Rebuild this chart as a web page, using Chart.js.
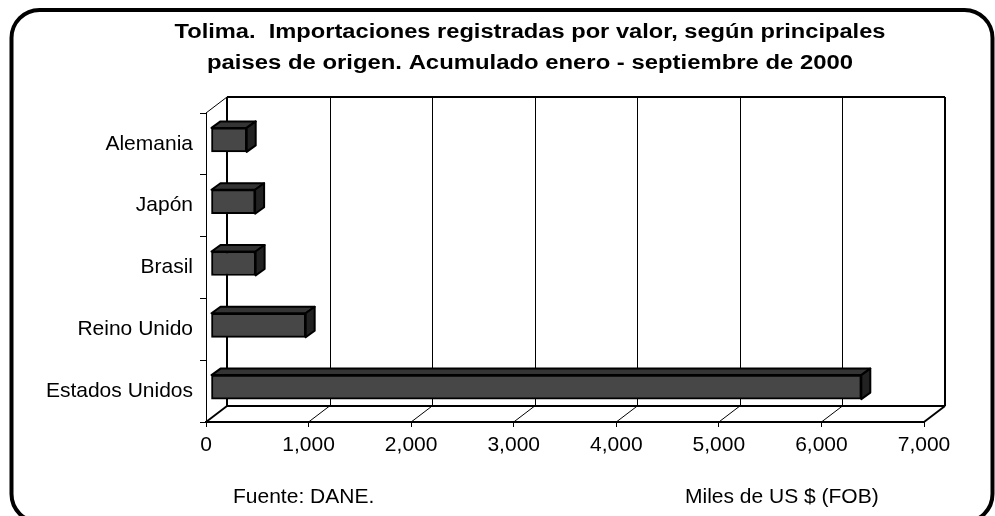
<!DOCTYPE html>
<html>
<head>
<meta charset="utf-8">
<script src="https://cdn.jsdelivr.net/npm/chart.js@4/dist/chart.umd.min.js"></script>
<style>
  html, body { margin: 0; padding: 0; background: #ffffff; }
  #wrap { width: 995px; height: 516px; position: relative; }
</style>
</head>
<body>
<div id="wrap"><canvas id="c" width="995" height="516"></canvas></div>
<script>
// ---- data ----
const categories = ['Alemania', 'Japón', 'Brasil', 'Reino Unido', 'Estados Unidos'];
const importValues = [348, 430, 435, 923, 6340];
const xTickValues = [0, 1000, 2000, 3000, 4000, 5000, 6000, 7000];
const titleLines = ['Tolima.  Importaciones registradas por valor, según principales',
                    'paises de origen. Acumulado enero - septiembre de 2000'];
const sourceText = 'Fuente: DANE.';
const unitText = 'Miles de US $ (FOB)';

// ---- 3D look ----
const WALL = { dx: 21, dy: -16 };     // depth of the walls
const BARPOS = { dx: 5, dy: -4 };     // front face of bars inside the depth
const BARDEPTH = { dx: 9, dy: -6.5 }; // extrusion of each bar
const FONT = '"Liberation Sans", Arial, sans-serif';

const threeD = {
  id: 'threeD',
  beforeDatasetsDraw(chart) {
    const ctx = chart.ctx, xs = chart.scales.x, a = chart.chartArea;
    const top = a.top + WALL.dy, bot = a.bottom + WALL.dy;
    ctx.save();
    ctx.strokeStyle = '#000';
    xTickValues.forEach((v, i) => {
      const px = xs.getPixelForValue(v);
      const edge = (i === 0 || i === xTickValues.length - 1);
      ctx.lineWidth = edge ? 2 : 1;
      const gx = Math.round(px + WALL.dx) + (edge ? 0 : 0.5);
      ctx.beginPath();
      ctx.moveTo(gx, top);
      ctx.lineTo(gx, bot);
      ctx.stroke();
      ctx.beginPath();
      ctx.moveTo(px, a.bottom);
      ctx.lineTo(px + WALL.dx, bot);
      ctx.stroke();
    });
    ctx.lineWidth = 2;
    ctx.beginPath();
    ctx.moveTo(a.left + WALL.dx, top); ctx.lineTo(a.right + WALL.dx, top);
    ctx.moveTo(a.left + WALL.dx, bot); ctx.lineTo(a.right + WALL.dx, bot);
    ctx.stroke();
    ctx.lineWidth = 1;
    ctx.beginPath();
    ctx.moveTo(a.left, a.top); ctx.lineTo(a.left + WALL.dx, top);
    ctx.stroke();

    const meta = chart.getDatasetMeta(0);
    ctx.lineWidth = 2;
    ctx.lineJoin = 'round';
    meta.data.forEach(el => {
      const p = el.getProps(['x', 'y', 'base', 'height'], true);
      const x0 = p.base + BARPOS.dx, x1 = p.x + BARPOS.dx;
      const y0 = p.y - p.height / 2 + BARPOS.dy, y1 = p.y + p.height / 2 + BARPOS.dy;
      ctx.fillStyle = '#343434';
      ctx.beginPath();
      ctx.moveTo(x0, y0); ctx.lineTo(x0 + BARDEPTH.dx, y0 + BARDEPTH.dy);
      ctx.lineTo(x1 + BARDEPTH.dx, y0 + BARDEPTH.dy); ctx.lineTo(x1, y0); ctx.closePath();
      ctx.fill(); ctx.stroke();
      ctx.fillStyle = '#222222';
      ctx.beginPath();
      ctx.moveTo(x1, y0); ctx.lineTo(x1 + BARDEPTH.dx, y0 + BARDEPTH.dy);
      ctx.lineTo(x1 + BARDEPTH.dx, y1 + BARDEPTH.dy); ctx.lineTo(x1, y1); ctx.closePath();
      ctx.fill(); ctx.stroke();
    });
    ctx.restore();
    ctx.save();
    ctx.translate(BARPOS.dx, BARPOS.dy);
  },
  afterDatasetsDraw(chart) {
    chart.ctx.restore();
  },
  afterDraw(chart) {
    const ctx = chart.ctx;
    ctx.save();
    ctx.fillStyle = '#000';
    ctx.textBaseline = 'alphabetic';
    ctx.textAlign = 'center';
    ctx.font = 'bold 20px ' + FONT;
    const targetW = [711, 646];
    const baseY = [38, 69];
    titleLines.forEach((t, i) => {
      const w = ctx.measureText(t).width;
      ctx.save();
      ctx.translate(530, baseY[i]);
      ctx.scale(targetW[i] / w, 1);
      ctx.fillText(t, 0, 0);
      ctx.restore();
    });
    ctx.font = '21px ' + FONT;
    ctx.textAlign = 'left';
    ctx.fillText(sourceText, 233, 503);
    ctx.fillText(unitText, 685, 503);
    ctx.strokeStyle = '#000';
    ctx.lineWidth = 4;
    ctx.beginPath();
    ctx.roundRect(11.5, 10, 981, 512, 28);
    ctx.stroke();
    ctx.restore();
  }
};

new Chart(document.getElementById('c'), {
  type: 'bar',
  data: {
    labels: categories,
    datasets: [{
      data: importValues,
      backgroundColor: '#474747',
      borderColor: '#000000',
      borderWidth: 2,
      borderSkipped: false,
      barThickness: 24,
      clip: false
    }]
  },
  options: {
    indexAxis: 'y',
    responsive: false,
    animation: false,
    devicePixelRatio: 1,
    layout: { padding: { top: 113, right: 71, left: 0, bottom: 0 } },
    plugins: { legend: { display: false }, title: { display: false }, tooltip: { enabled: false } },
    scales: {
      x: {
        type: 'linear',
        min: 0, max: 7000,
        afterBuildTicks(scale) { scale.ticks = xTickValues.map(v => ({ value: v })); },
        afterFit(scale) { scale.height = 94; },
        ticks: {
          color: '#000',
          font: { family: FONT, size: 21 },
          padding: 6,
          maxRotation: 0,
          callback: v => v.toLocaleString('en-US')
        },
        grid: { drawOnChartArea: false, tickLength: 5, color: '#000', lineWidth: 1 },
        border: { display: true, color: '#000', width: 2 }
      },
      y: {
        type: 'category',
        afterFit(scale) { scale.width = 206; },
        ticks: { color: '#000', font: { family: FONT, size: 21 }, padding: 7 },
        grid: { drawOnChartArea: false, offset: true, tickLength: 6, color: '#000', lineWidth: 1 },
        border: { display: true, color: '#000', width: 1 }
      }
    }
  },
  plugins: [threeD]
});
</script>
</body>
</html>
